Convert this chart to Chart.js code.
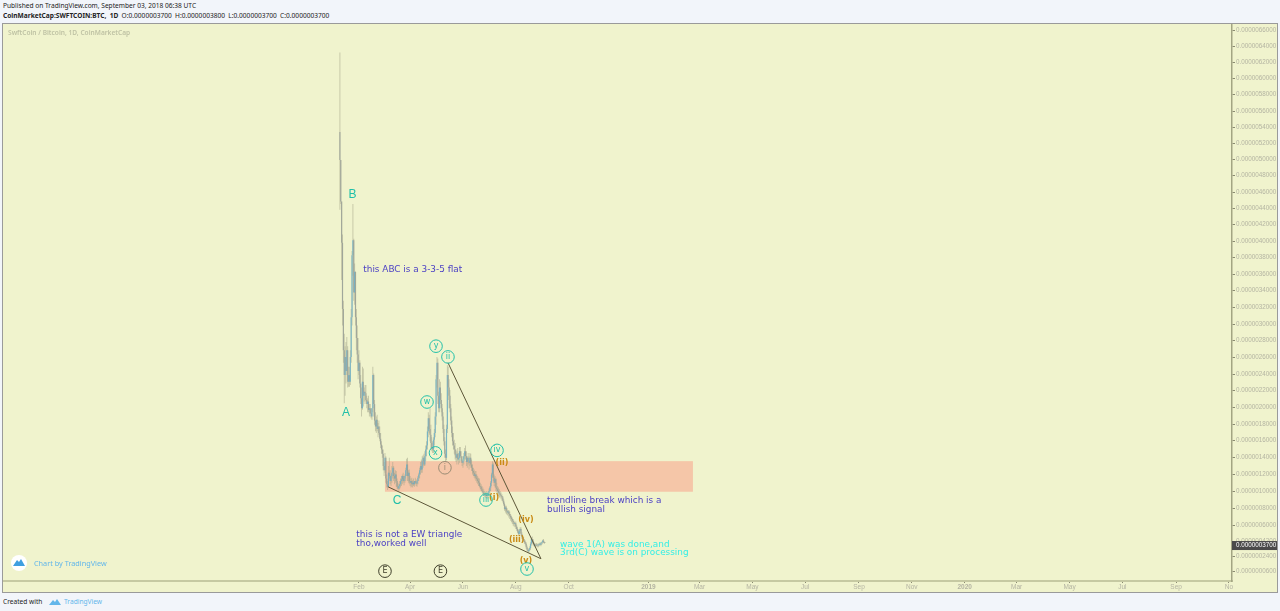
<!DOCTYPE html>
<html>
<head>
<meta charset="utf-8">
<title>SWFTCOIN:BTC</title>
<script src="https://cdn.jsdelivr.net/npm/chart.js@4/dist/chart.umd.js"></script>
<style>
    html, body { margin: 0; padding: 0; width: 1280px; height: 611px; overflow: hidden; background: #f2f5fa; font-family: "Noto Sans", sans-serif; color: #222; }
    .line { position: absolute; left: 3px; font-size: 6.6px; line-height: 9px; white-space: nowrap; }
    #published { top: 1px; }
    #symbol { top: 11px; word-spacing: 1.6px; }
    #symbol b { font-weight: 700; }
    #created { top: 597px; }
    #created svg { position: absolute; left: 45px; top: 0; }
    #created span { position: absolute; left: 61px; top: 0; color: #62b6ea; }
    #frame { position: absolute; left: 3px; top: 24px; width: 1274px; height: 568px; background: #f0f3cd; outline: 1px solid #9a9a9a; }
    canvas { display: block; }
</style>
</head>
<body>
<div class="line" id="published">Published on TradingView.com, September 03, 2018 06:38 UTC</div>
<div class="line" id="symbol"><b>CoinMarketCap:SWFTCOIN:BTC, 1D</b> O:0.0000003700 H:0.0000003800 L:0.0000003700 C:0.0000003700</div>
<div id="frame"><canvas id="chart" width="1274" height="568"></canvas></div>
<div class="line" id="created">Created with
    <svg width="14" height="9" viewBox="0 0 14 9"><path d="M1 8 L5 3 L7 5 L9 2 L13 8 Z" fill="#62b6ea"/></svg>
    <span>TradingView</span>
</div>

<script>
// Prices are in satoshi (1e-8 BTC), one row of ten per daily bar
const firstDay = 9; // days since 2018-01-01
const highs = [
    630,500,450,410,330,290,275,280,286,275,
    250,250,270,320,390,447,405,375,365,320,
    300,285,270,258,240,225,250,248,225,228,
    228,215,212,215,205,205,200,200,250,242,
    210,195,190,192,182,185,178,170,160,155,
    150,135,146,142,120,112,130,140,125,120,
    130,135,130,122,125,124,115,110,108,112,
    115,118,120,122,118,120,128,139,140,125,
    126,118,115,116,113,115,112,116,114,113,
    118,122,128,135,138,142,143,145,148,155,
    160,178,195,192,200,180,165,160,165,175,
    195,240,262,260,220,235,232,218,205,195,
    180,165,150,180,252,250,235,222,205,190,
    178,170,162,158,150,148,152,146,153,153,
    148,142,142,146,152,155,148,142,146,142,
    146,145,138,132,128,126,124,124,120,118,
    116,115,110,108,106,104,102,100,99,100,
    98,100,103,106,112,122,136,134,120,118,
    116,110,106,104,102,100,98,96,94,90,
    86,82,82,79,77,77,75,72,70,68,
    66,64,62,63,59,56,53,54,56,56,
    50,46,44,42,40,38,34,31,30,33,
    38,44,45,42,38,37,36,37,36,36,
    37,38,38,39,41,42,39,38
];
const lows = [
    440,447,355,300,255,206,215,230,240,225,
    226,226,228,255,300,360,330,325,300,270,
    255,235,240,225,205,190,198,202,208,205,
    208,200,195,195,190,193,188,186,195,190,
    180,172,170,172,165,168,160,152,145,140,
    125,118,122,110,104,101,105,115,108,106,
    110,115,112,108,110,105,102,102,100,102,
    104,106,108,110,107,110,112,118,112,110,
    108,106,104,105,104,106,105,108,106,105,
    108,112,115,120,122,122,128,130,130,136,
    142,150,165,170,160,150,148,146,146,155,
    165,180,225,205,195,195,205,195,185,170,
    155,140,136,137,170,210,200,195,180,165,
    155,150,145,138,135,132,136,132,134,140,
    134,130,128,132,136,138,130,128,132,126,
    130,128,124,120,118,116,114,112,110,108,
    106,104,102,100,98,96,94,93,92,91,
    90,92,94,96,100,106,116,112,106,104,
    100,98,96,94,92,92,90,88,86,82,
    76,74,72,71,70,68,66,64,62,60,
    58,57,56,54,52,49,46,46,49,46,
    42,40,38,36,34,30,27,25,25,27,
    29,34,37,34,33,32,32,33,32,32,
    33,34,33,35,36,37,36,37
];
const opens = [
    534,500,450,400,320,270,240,262,245,270,
    232,240,232,262,310,385,403,340,365,310,
    285,265,245,255,230,212,200,232,215,220,
    218,210,205,208,198,200,194,190,200,240,
    205,185,178,186,175,178,170,163,156,150,
    145,130,125,140,115,108,105,122,118,112,
    118,122,128,118,115,120,112,105,103,106,
    108,112,114,118,112,115,118,125,132,118,
    122,112,110,112,108,110,108,112,110,109,
    112,116,120,125,130,126,136,140,132,142,
    150,155,172,188,175,168,158,152,150,162,
    170,190,235,255,215,200,225,210,200,190,
    175,160,145,140,175,240,225,215,200,185,
    170,160,155,150,143,140,145,138,140,148,
    142,136,134,138,142,148,142,135,140,136,
    134,140,132,128,124,122,118,120,116,114,
    112,110,106,105,102,100,98,96,95,96,
    94,95,98,100,104,110,120,132,116,110,
    114,104,102,100,98,97,95,94,92,88,
    84,78,80,76,74,75,72,70,68,66,
    64,62,60,61,57,54,51,48,52,54,
    48,44,42,40,38,36,32,29,27,29,
    31,36,42,40,36,35,34,35,34,34,
    35,36,35,37,38,40,38,37
];
const closes = [
    500,450,400,320,270,240,262,245,270,232,
    240,232,262,310,385,403,340,365,310,285,
    265,245,255,230,212,200,232,215,220,218,
    210,205,208,198,200,194,190,200,240,205,
    185,178,186,175,178,170,163,156,150,145,
    130,125,140,115,108,105,122,118,112,118,
    122,128,118,115,120,112,105,103,106,108,
    112,114,118,112,115,118,125,132,118,122,
    112,110,112,108,110,108,112,110,109,112,
    116,120,125,130,126,136,140,132,142,150,
    155,172,188,175,168,158,152,150,162,170,
    190,235,255,215,200,225,210,200,190,175,
    160,145,140,175,240,225,215,200,185,170,
    160,155,150,143,140,145,138,140,148,142,
    136,134,138,142,148,142,135,140,136,134,
    140,132,128,124,122,118,120,116,114,112,
    110,106,105,102,100,98,96,95,96,94,
    95,98,100,104,110,120,132,116,110,114,
    104,102,100,98,97,95,94,92,88,84,
    78,80,76,74,75,72,70,68,66,64,
    62,60,61,57,54,51,48,52,54,48,
    44,42,40,38,36,32,29,27,29,31,
    36,42,40,36,35,34,35,34,34,35,
    36,35,37,38,40,38,37,37
];

// The printed price axis is not quite even, so tick places are read off the picture with their own labels
const priceTicks = [657.2,637.9,618.5,599.2,579.8,559.3,539.9,520.6,501.2,481.3,461.3,442,422.1,402.1,382.8,362.2,342.9,322.3,301.8,282.4,261.9,241.3,222,201.4,180.9,161.5,141,120.4,99.9,79.3,58.8,39.4,21.3,3.1];
const priceLabels = ['0.0000066000','0.0000064000','0.0000062000','0.0000060000','0.0000058000','0.0000056000','0.0000054000','0.0000052000','0.0000050000','0.0000048000','0.0000046000','0.0000044000','0.0000042000','0.0000040000','0.0000038000','0.0000036000','0.0000034000','0.0000032000','0.0000030000','0.0000028000','0.0000026000','0.0000024000','0.0000022000','0.0000020000','0.0000018000','0.0000016000','0.0000014000','0.0000012000','0.0000010000','0.0000008000','0.0000006000','0.0000004200','0.0000002400','0.0000000600'];
const dayTicks = [31,90,151,212,273,365,424,485,546,608,669,730,790,851,912,974,1035];
const dayLabels = ['Feb','Apr','Jun','Aug','Oct','2019','Mar','May','Jul','Sep','Nov','2020','Mar','May','Jul','Sep','No'];

// Drawings, in chart coordinates (day, satoshi)
const lowerTrend = [{x: 64.5, y: 105}, {x: 241, y: 18}];
const upperTrend = [{x: 133.7, y: 255}, {x: 241, y: 18}];
const zone = {x1: 61, x2: 416.4, y1: 99, y2: 136};

const BLUE = '#4a3fc4', CYAN = '#33eee6', TEAL = '#20bfa8', ORANGE = '#c98a14', DARK = '#3c3c28', MUTED = '#9a8c74';
const notes = [
    {text: 'this ABC is a 3-3-5 flat', x: 36, y: 368, color: BLUE},
    {text: 'this is not a EW triangle', x: 28, y: 47, color: BLUE},
    {text: 'tho,worked well', x: 28, y: 36, color: BLUE},
    {text: 'trendline break which is a', x: 248, y: 88, color: BLUE},
    {text: 'bullish signal', x: 248, y: 77, color: BLUE},
    {text: 'wave 1(A) was done,and', x: 263, y: 35, color: CYAN},
    {text: '3rd(C) wave is on processing', x: 263, y: 25, color: CYAN}
];
const letters = [
    {text: 'A', x: 16, y: 194}, {text: 'B', x: 23.5, y: 458}, {text: 'C', x: 75, y: 88}
];
const orangeLabels = [
    {text: '(ii)', x: 196, y: 134}, {text: '(i)', x: 187, y: 91}, {text: '(iv)', x: 223.7, y: 65},
    {text: '(iii)', x: 213, y: 41}, {text: '(v)', x: 223.7, y: 15}
];
const circled = [
    {text: 'y', x: 119.9, y: 275, color: TEAL}, {text: 'ii', x: 133.7, y: 262, color: TEAL},
    {text: 'w', x: 109.5, y: 207.5, color: TEAL}, {text: 'x', x: 119.3, y: 146, color: TEAL},
    {text: 'i', x: 130.2, y: 128, color: MUTED}, {text: 'iii', x: 177.6, y: 89, color: TEAL},
    {text: 'iv', x: 190.3, y: 149, color: TEAL}, {text: 'v', x: 224.9, y: 5.6, color: TEAL},
    {text: 'E', x: 61, y: 3, color: DARK}, {text: 'E', x: 125, y: 3, color: DARK}
];

const wicks = highs.map((h, i) => ({x: firstDay + i, y: [lows[i], h]}));
const bodies = opens.map((o, i) => ({x: firstDay + i, y: [o, closes[i]]}));
const bodyColors = opens.map((o, i) => closes[i] >= o ? 'rgba(108, 176, 200, 0.85)' : 'rgba(150, 158, 150, 0.8)');

function priceText(sat) {
    return (sat * 1e-8).toFixed(10);
}

// Zone goes under the bars
const zonePlugin = {
    id: 'zone',
    beforeDatasetsDraw(chart) {
        const {ctx, scales: {x, y}} = chart;
        ctx.save();
        ctx.fillStyle = '#f5c6a8';
        ctx.fillRect(x.getPixelForValue(zone.x1), y.getPixelForValue(zone.y2),
            x.getPixelForValue(zone.x2) - x.getPixelForValue(zone.x1),
            y.getPixelForValue(zone.y1) - y.getPixelForValue(zone.y2));
        ctx.restore();
    }
};

const drawingsPlugin = {
    id: 'drawings',
    afterDraw(chart) {
        const {ctx, chartArea, scales: {x, y}} = chart;
        ctx.save();
        ctx.textBaseline = 'middle';

        // Chart title
        ctx.textAlign = 'left';
        ctx.font = '600 6.6px "Noto Sans"';
        ctx.fillStyle = '#bfc2a4';
        ctx.fillText('SwftCoin / Bitcoin, 1D, CoinMarketCap', 5, 9);

        ctx.font = '8.9px "DejaVu Sans"';
        notes.forEach(n => {
            ctx.fillStyle = n.color;
            ctx.fillText(n.text, x.getPixelForValue(n.x), y.getPixelForValue(n.y));
        });

        ctx.textAlign = 'center';
        ctx.font = '12px "Liberation Sans"';
        ctx.fillStyle = TEAL;
        letters.forEach(l => ctx.fillText(l.text, x.getPixelForValue(l.x), y.getPixelForValue(l.y)));

        ctx.font = 'bold 8px "DejaVu Sans"';
        ctx.fillStyle = ORANGE;
        orangeLabels.forEach(l => ctx.fillText(l.text, x.getPixelForValue(l.x), y.getPixelForValue(l.y)));

        ctx.font = '8px "DejaVu Sans"';
        ctx.lineWidth = 1;
        circled.forEach(c => {
            const px = x.getPixelForValue(c.x), py = y.getPixelForValue(c.y);
            ctx.strokeStyle = c.color;
            ctx.beginPath();
            ctx.arc(px, py, 6.3, 0, Math.PI * 2);
            ctx.stroke();
            ctx.fillStyle = c.color;
            ctx.fillText(c.text, px, py);
        });

        // TradingView badge
        ctx.fillStyle = '#ffffff';
        ctx.beginPath();
        ctx.arc(16, 539, 8, 0, Math.PI * 2);
        ctx.fill();
        ctx.fillStyle = '#3f9fe0';
        ctx.beginPath();
        ctx.moveTo(10, 542);
        ctx.lineTo(14, 536);
        ctx.lineTo(16, 538);
        ctx.lineTo(18, 535);
        ctx.lineTo(22, 542);
        ctx.closePath();
        ctx.fill();
        ctx.textAlign = 'left';
        ctx.font = '7.3px "Noto Sans"';
        ctx.fillStyle = '#62b6ea';
        ctx.fillText('Chart by TradingView', 31, 540);

        // Last price tag
        const last = closes[closes.length - 1];
        const tagY = y.getPixelForValue(last) + 2.5;
        ctx.fillStyle = '#4a4a4a';
        ctx.fillRect(chartArea.right, tagY - 4.5, 45, 9);
        ctx.fillStyle = '#ffffff';
        ctx.font = '6.3px "Liberation Sans"';
        ctx.fillText(priceText(last), chartArea.right + 4, tagY);
        ctx.restore();
    }
};

document.addEventListener('DOMContentLoaded', function() {
    const ctx = document.getElementById('chart').getContext('2d');
    new Chart(ctx, {
        type: 'bar',
        data: {
            datasets: [
                {
                    data: wicks,
                    backgroundColor: 'rgba(165, 167, 140, 0.6)',
                    barThickness: 0.9,
                    inflateAmount: 0,
                    grouped: false,
                    order: 3
                },
                {
                    data: bodies,
                    backgroundColor: bodyColors,
                    barThickness: 1.2,
                    inflateAmount: 0,
                    grouped: false,
                    order: 2
                },
                {
                    type: 'line',
                    data: lowerTrend,
                    borderColor: '#5c5638',
                    borderWidth: 1,
                    pointRadius: 0,
                    order: 1
                },
                {
                    type: 'line',
                    data: upperTrend,
                    borderColor: '#5c5638',
                    borderWidth: 1,
                    pointRadius: 0,
                    order: 1
                }
            ]
        },
        options: {
            responsive: false,
            animation: false,
            layout: {padding: 0},
            plugins: {
                legend: {display: false},
                tooltip: {enabled: false}
            },
            scales: {
                x: {
                    type: 'linear',
                    offset: false,
                    min: -379.8,
                    max: 1038.5,
                    afterBuildTicks: axis => { axis.ticks = dayTicks.map(v => ({value: v})); },
                    afterFit: axis => { axis.height = 11; axis.paddingLeft = 0; axis.paddingRight = 0; },
                    grid: {offset: false, drawOnChartArea: false, tickLength: 2, tickColor: '#8a8a70'},
                    border: {color: '#c6c9a2', width: 2},
                    ticks: {
                        autoSkip: false,
                        maxRotation: 0,
                        padding: 0,
                        color: '#b4b4a2',
                        font: c => ({size: 6.5, family: '"Liberation Sans"', weight: (c.tick && c.tick.value % 365 === 0) ? 'bold' : 'normal'}),
                        callback: v => dayLabels[dayTicks.indexOf(v)]
                    }
                },
                y: {
                    type: 'linear',
                    position: 'right',
                    min: -8.9,
                    max: 664.5,
                    afterBuildTicks: axis => { axis.ticks = priceTicks.map(v => ({value: v})); },
                    afterFit: axis => { axis.width = 45; axis.paddingTop = 0; axis.paddingBottom = 0; },
                    grid: {drawOnChartArea: false, tickLength: 3, tickColor: '#8a8a70'},
                    border: {color: '#a3a583', width: 1.5},
                    ticks: {
                        autoSkip: false,
                        padding: 1,
                        color: '#b4b4a2',
                        font: {size: 6.3, family: '"Liberation Sans"'},
                        callback: v => priceLabels[priceTicks.indexOf(v)]
                    }
                }
            }
        },
        plugins: [zonePlugin, drawingsPlugin]
    });
});
</script>
</body>
</html>
